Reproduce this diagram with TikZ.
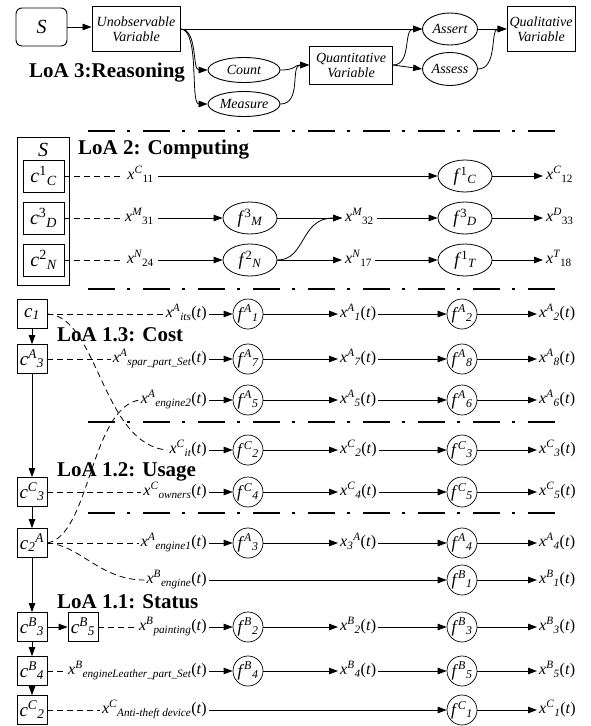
\documentclass[tikz,border=0pt]{standalone}
\usepackage{amsmath}
\usepackage{fontspec}
\setmainfont{Liberation Serif}
\usetikzlibrary{arrows.meta,shapes.geometric}

% variable with superscript, then subscript set after it (italic scripts)
\newcommand\vx[3]{\textit{#1}$^{\textit{#2}}{}_{\textit{#3}}$}
% variable with subscript first, then superscript
\newcommand\vy[3]{\textit{#1}$_{\textit{#3}}{}^{\textit{#2}}$}
% variable with upright numeric subscript
\newcommand\vu[3]{\textit{#1}$^{\textit{#2}}{}_{\textup{#3}}$}
% variable with upright numeric superscript
\newcommand\vs[3]{\textit{#1}$^{\textup{#2}}{}_{\textit{#3}}$}

\begin{document}
\begin{tikzpicture}[x=1pt,y=-1pt,
  >={Triangle[length=9pt,width=6.5pt]},
  every node/.style={font=\fontsize{16}{18}\selectfont},
  conn/.style={line width=0.8pt,->},
  dsh/.style={line width=0.8pt,dash pattern=on 6pt off 4pt},
  sepline/.style={line width=2.6pt,dash pattern=on 27pt off 12pt on 3pt off 13pt},
  title/.style={anchor=west,inner sep=0pt,font=\fontsize{21}{23}\selectfont\bfseries},
  topbox/.style={draw,line width=0.9pt,rectangle,align=center,inner sep=1pt,
    font=\fontsize{14}{15}\selectfont\itshape},
  topell/.style={draw,line width=0.9pt,ellipse,inner sep=0pt,
    font=\fontsize{14}{15}\selectfont\itshape},
  cbox/.style={draw,line width=0.8pt,rectangle,inner sep=0pt,minimum width=30pt,
    minimum height=29pt,font=\fontsize{19}{20}\selectfont},
  cbig/.style={draw,line width=0.8pt,rectangle,inner sep=0pt,minimum width=41pt,
    minimum height=32pt,font=\fontsize{20}{21}\selectfont},
  fe/.style={draw,ellipse,line width=0.8pt,minimum width=54pt,minimum height=32pt,inner sep=0pt,
    font=\fontsize{18}{20}\selectfont},
  fc/.style={draw,circle,line width=0.7pt,minimum size=30pt,inner sep=0pt,
    font=\fontsize{17}{19}\selectfont},
  lab/.style={inner sep=2pt,text height=11pt,text depth=4pt},
]
\useasboundingbox (0,0) rectangle (591,726);

% ---------------- LoA 3: reasoning ----------------
\node[draw,line width=0.9pt,rounded corners=6pt,minimum width=51pt,minimum height=38pt,
  font=\fontsize{20}{21}\selectfont\itshape] (S) at (41.5,27) {S};
\node[topbox,minimum width=88pt,minimum height=45pt] (UV) at (136,29) {Unobservable\\Variable};
\node[topell,minimum width=72pt,minimum height=25pt] (Count) at (244,70) {Count};
\node[topell,minimum width=72pt,minimum height=25pt] (Measure) at (244,104) {Measure};
\node[topbox,minimum width=83pt,minimum height=38pt] (QV) at (351,65) {Quantitative\\Variable};
\node[topell,minimum width=55pt,minimum height=32pt] (Assert) at (450,29) {Assert};
\node[topell,minimum width=55pt,minimum height=33pt] (Assess) at (450,69) {Assess};
\node[topbox,minimum width=68pt,minimum height=45pt] (QualV) at (541,29) {Qualitative\\Variable};
\node[title] (t3) at (29,73) {LoA 3:Reasoning};

\draw[conn] (S.east) -- (UV.west |- S.east);
\draw[conn] (UV.east) -- (Assert.west);
\draw[conn] (UV.east) .. controls (198,29) and (192,70) .. (Count.west);
\draw[conn] (UV.east) .. controls (200,29) and (190,104) .. (Measure.west);
\draw[conn] (Count.east) .. controls (296,70) and (294,65) .. (QV.west);
\draw[conn] (Measure.east) .. controls (302,104) and (290,65) .. (QV.west);
\draw[conn] (QV.east) .. controls (412,65) and (403,29) .. (Assert.west);
\draw[conn] (QV.east) -- (Assess.west);
\draw[conn] (Assert.east) -- (QualV.west);
\draw[conn] (Assess.east) .. controls (498,69) and (490,29) .. (QualV.west);

% ---------------- separators ----------------
\draw[sepline] (88,131) -- (556,131);
\draw[sepline] (88,289) -- (556,289);
\draw[sepline] (88,422) -- (556,422);
\draw[sepline] (88,513) -- (556,513);

% ---------------- LoA 2: computing ----------------
\node[draw,line width=0.8pt,minimum width=52pt,minimum height=148pt,inner sep=0pt] (Sgrp) at (43,211) {};
\node[font=\fontsize{20}{21}\selectfont\itshape,inner sep=0pt] (Slab) at (43,150) {S};
\node[title] (t2) at (78,150) {LoA 2: Computing};

\node[cbig] (cC) at (43.5,176) {\vs{c}{1}{C}};
\node[cbig] (cD) at (43.5,218) {\vs{c}{3}{D}};
\node[cbig] (cN) at (43.5,260) {\vs{c}{2}{N}};

\node[lab,anchor=east,inner sep=4pt] (x11) at (158,176) {\vu{x}{C}{11}};
\node[lab,anchor=east,inner sep=4pt] (x31) at (158,218) {\vu{x}{M}{31}};
\node[lab,anchor=east,inner sep=4pt] (x24) at (158,260) {\vu{x}{N}{24}};

\node[fe] (fM) at (250,218) {\vs{f}{3}{M}};
\node[fe] (fN) at (250,260) {\vs{f}{2}{N}};

\node[lab,anchor=west,inner sep=3pt] (x32) at (342,218) {\vu{x}{M}{32}};
\node[lab,anchor=west,inner sep=3pt] (x17) at (342,260) {\vu{x}{N}{17}};

\node[fe] (fC) at (465,176) {\vs{f}{1}{C}};
\node[fe] (fD) at (465,218) {\vs{f}{3}{D}};
\node[fe] (fT) at (465,260) {\vs{f}{1}{T}};

\node[lab,anchor=west,inner sep=3pt] (x12) at (543,176) {\vu{x}{C}{12}};
\node[lab,anchor=west,inner sep=3pt] (x33) at (543,218) {\vu{x}{D}{33}};
\node[lab,anchor=west,inner sep=3pt] (x18) at (543,260) {\vu{x}{T}{18}};

\draw[dsh] (cC.east) -- (x11.west);
\draw[dsh] (cD.east) -- (x31.west);
\draw[dsh] (cN.east) -- (x24.west);
\draw[conn] (x11.east) -- (fC.west);
\draw[conn] (x31.east) -- (fM.west);
\draw[conn] (x24.east) -- (fN.west);
\draw[conn] (fM.east) -- (x32.west);
\draw[conn] (fN.east) .. controls (306,260) and (300,218) .. (x32.west);
\draw[conn] (fN.east) -- (x17.west);
\draw[conn] (x32.east) -- (fD.west);
\draw[conn] (x17.east) -- (fT.west);
\draw[conn] (fC.east) -- (x12.west);
\draw[conn] (fD.east) -- (x33.west);
\draw[conn] (fT.east) -- (x18.west);

% ---------------- LoA 1: components ----------------
\node[title] (t13) at (57,335) {LoA 1.3: Cost};
\node[title] (t12) at (57,472) {LoA 1.2: Usage};
\node[title] (t11) at (57,602) {LoA 1.1: Status};

\node[cbox] (c1)  at (32,314) {\textit{c}$_{\textit{1}}$};
\node[cbox] (cA3) at (32,359) {\vx{c}{A}{3}};
\node[cbox] (cC3) at (32,492) {\vx{c}{C}{3}};
\node[cbox] (cA2) at (32,543) {\vy{c}{A}{2}};
\node[cbox] (cB3) at (32,627) {\vx{c}{B}{3}};
\node[cbox] (cB5) at (83,627) {\vx{c}{B}{5}};
\node[cbox] (cB4) at (32,671) {\vx{c}{B}{4}};
\node[cbox] (cC2) at (32,710) {\vx{c}{C}{2}};

\draw[conn] (c1.south) -- (cA3.north);
\draw[conn] (cA3.south) -- (cC3.north);
\draw[conn] (cC3.south) -- (cA2.north);
\draw[conn] (cA2.south) -- (cB3.north);
\draw[conn] (cB3.east) -- (cB5.west);
\draw[conn] (cB3.south) -- (cB4.north);
\draw[conn] (cB4.south) -- (cC2.north);

% source labels
\node[lab,anchor=east] (lA1) at (209,314) {\vx{x}{A}{its}(\textit{t})};
\node[lab,anchor=east] (lA2) at (209,359) {\vx{x}{A}{spar\_part\_Set}(\textit{t})};
\node[lab,anchor=east] (lA3) at (209,400) {\vx{x}{A}{engine2}(\textit{t})};
\node[lab,anchor=east] (lC1) at (209,450) {\vx{x}{C}{it}(\textit{t})};
\node[lab,anchor=east] (lC2) at (209,492) {\vx{x}{C}{owners}(\textit{t})};
\node[lab,anchor=east] (lA4) at (209,543) {\vx{x}{A}{engine1}(\textit{t})};
\node[lab,anchor=east] (lB1) at (209,580) {\vx{x}{B}{engine}(\textit{t})};
\node[lab,anchor=east] (lB2) at (209,627) {\vx{x}{B}{painting}(\textit{t})};
\node[lab,anchor=east] (lB3) at (209,671) {\vx{x}{B}{engineLeather\_part\_Set}(\textit{t})};
\node[lab,anchor=east] (lC3) at (209,710) {\vx{x}{C}{Anti-theft device}(\textit{t})};

% first function column
\node[fc] (gA1) at (248,314) {\vx{f}{A}{1}};
\node[fc] (gA2) at (248,359) {\vx{f}{A}{7}};
\node[fc] (gA3) at (248,400) {\vx{f}{A}{5}};
\node[fc] (gC1) at (248,450) {\vx{f}{C}{2}};
\node[fc] (gC2) at (248,492) {\vx{f}{C}{4}};
\node[fc] (gA4) at (248,543) {\vx{f}{A}{3}};
\node[fc] (gB2) at (248,627) {\vx{f}{B}{2}};
\node[fc] (gB3) at (248,671) {\vx{f}{B}{4}};

% intermediate variables
\node[lab,anchor=west] (mA1) at (338,314) {\vx{x}{A}{1}(\textit{t})};
\node[lab,anchor=west] (mA2) at (338,359) {\vx{x}{A}{7}(\textit{t})};
\node[lab,anchor=west] (mA3) at (338,400) {\vx{x}{A}{5}(\textit{t})};
\node[lab,anchor=west] (mC1) at (338,450) {\vx{x}{C}{2}(\textit{t})};
\node[lab,anchor=west] (mC2) at (338,492) {\vx{x}{C}{4}(\textit{t})};
\node[lab,anchor=west] (mA4) at (338,543) {\vy{x}{A}{3}(\textit{t})};
\node[lab,anchor=west] (mB2) at (338,627) {\vx{x}{B}{2}(\textit{t})};
\node[lab,anchor=west] (mB3) at (338,671) {\vx{x}{B}{4}(\textit{t})};

% second function column
\node[fc] (hA1) at (462,314) {\vx{f}{A}{2}};
\node[fc] (hA2) at (462,359) {\vx{f}{A}{8}};
\node[fc] (hA3) at (462,400) {\vx{f}{A}{6}};
\node[fc] (hC1) at (462,450) {\vx{f}{C}{3}};
\node[fc] (hC2) at (462,492) {\vx{f}{C}{5}};
\node[fc] (hA4) at (462,543) {\vx{f}{A}{4}};
\node[fc] (hB1) at (462,580) {\vx{f}{B}{1}};
\node[fc] (hB2) at (462,627) {\vx{f}{B}{3}};
\node[fc] (hB3) at (462,671) {\vx{f}{B}{5}};
\node[fc] (hC3) at (462,710) {\vx{f}{C}{1}};

% outputs
\node[lab,anchor=west] (rA1) at (537,314) {\vx{x}{A}{2}(\textit{t})};
\node[lab,anchor=west] (rA2) at (537,359) {\vx{x}{A}{8}(\textit{t})};
\node[lab,anchor=west] (rA3) at (537,400) {\vx{x}{A}{6}(\textit{t})};
\node[lab,anchor=west] (rC1) at (537,450) {\vx{x}{C}{3}(\textit{t})};
\node[lab,anchor=west] (rC2) at (537,492) {\vx{x}{C}{5}(\textit{t})};
\node[lab,anchor=west] (rA4) at (537,543) {\vx{x}{A}{4}(\textit{t})};
\node[lab,anchor=west] (rB1) at (537,580) {\vx{x}{B}{1}(\textit{t})};
\node[lab,anchor=west] (rB2) at (537,627) {\vx{x}{B}{3}(\textit{t})};
\node[lab,anchor=west] (rB3) at (537,671) {\vx{x}{B}{5}(\textit{t})};
\node[lab,anchor=west] (rC3) at (537,710) {\vx{x}{C}{1}(\textit{t})};

% chains
\foreach \r in {A1,A2,A3,C1,C2,A4,B2,B3}{
  \draw[conn] (l\r.east) -- (g\r.west);
  \draw[conn] (g\r.east) -- (m\r.west);
  \draw[conn] (m\r.east) -- (h\r.west);
}
\draw[conn] (lB1.east) -- (hB1.west);
\draw[conn] (lC3.east) -- (hC3.west);
\foreach \r in {A1,A2,A3,C1,C2,A4,B1,B2,B3,C3}{
  \draw[conn] (h\r.east) -- (r\r.west);
}

% component-to-variable links
\draw[dsh] (c1.east) -- (lA1.west);
\draw[dsh] (c1.east) .. controls (98,316) and (102,445) .. (lC1.west);
\draw[dsh] (cA3.east) -- (lA2.west);
\draw[dsh] (cC3.east) -- (lC2.west);
\draw[dsh] (cA2.east) -- (lA4.west);
\draw[dsh] (cA2.east) .. controls (90,535) and (90,410) .. (lA3.west);
\draw[dsh] (cA2.east) .. controls (80,545) and (100,580) .. (lB1.west);
\draw[dsh] (cB5.east) -- (lB2.west);
\draw[dsh] (cB4.east) -- (lB3.west);
\draw[dsh] (cC2.east) -- (lC3.west);
\end{tikzpicture}
\end{document}
